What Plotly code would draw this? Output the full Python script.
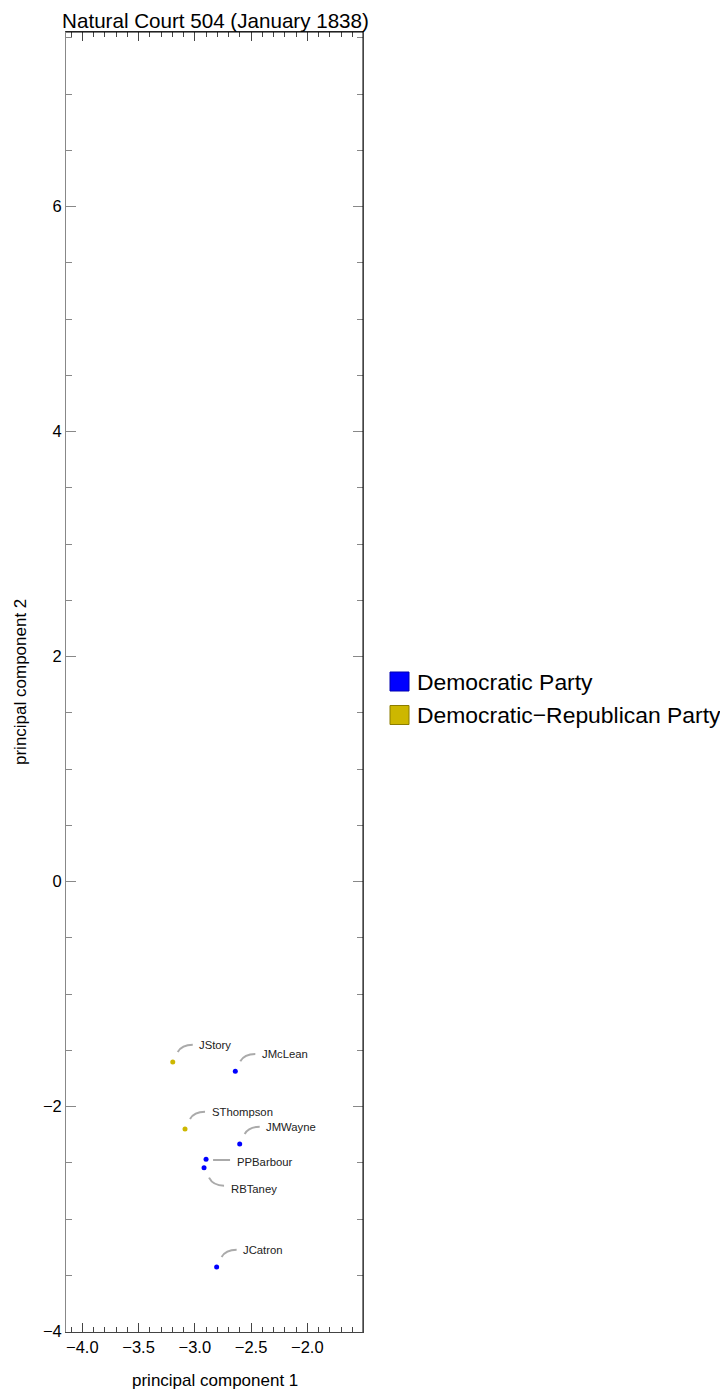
import plotly.graph_objects as go

# ---------------- data ----------------
justices = ["JStory", "JMcLean", "SThompson", "JMWayne", "PPBarbour", "RBTaney", "JCatron"]
pc1 = [-3.196, -2.640, -3.087, -2.601, -2.900, -2.918, -2.806]
pc2 = [-1.603, -1.685, -2.198, -2.332, -2.468, -2.542, -3.425]
party = ["Democratic-Republican Party", "Democratic Party", "Democratic-Republican Party",
         "Democratic Party", "Democratic Party", "Democratic Party", "Democratic Party"]
label_side = ["ur", "ur", "ur", "ur", "r", "dr", "ur"]

party_names = ["Democratic Party", "Democratic-Republican Party"]
party_labels = ["Democratic Party", "Democratic\u2212Republican Party"]
party_colors = {"Democratic Party": "#0000ff", "Democratic-Republican Party": "#cdb700"}
party_borders = {"Democratic Party": "#0000b0", "Democratic-Republican Party": "#8c7d00"}

title_text = "Natural Court 504 (January 1838)"
x_title = "principal component 1"
y_title = "principal component 2"

# ---------------- layout geometry ----------------
OFF = 8  # default page body margin
W, H = 728 - OFF, 1393 - OFF
ML, MR, MT, MB = 66 - OFF, 365, 32 - OFF, 61
PW, PH = W - ML - MR, H - MT - MB
XR = [-4.145, -1.505]
YR = [-4.003, 7.553]
ux = (XR[1] - XR[0]) / PW
uy = (YR[1] - YR[0]) / PH

FONT = "Liberation Sans, Arial, Helvetica, sans-serif"

# leader line styles in pixel offsets (dx right, dy down)
styles = {
    "ur": dict(path=[(5, -10), (9, -17.3), (20, -17.3)], text=(24.5, -17)),
    "r": dict(path=[(7, 0.7), (15, 0.7), (24, 0.7)], text=(29, 2.8)),
    "dr": dict(path=[(5, 10), (9, 18), (20, 18)], text=(24.5, 21.7)),
}


def px2paper_x(px):
    # px given in page pixels
    return (px - OFF - ML) / PW


def px2paper_y(py):
    return 1 - (py - OFF - MT) / PH


fig = go.Figure()

for p in party_names:
    xs = [x for x, q in zip(pc1, party) if q == p]
    ys = [y for y, q in zip(pc2, party) if q == p]
    fig.add_trace(go.Scatter(x=xs, y=ys, mode="markers", name=p, showlegend=False,
                             marker=dict(size=5, color=party_colors[p], line=dict(width=0))))

shapes = []
annotations = []
for name, x, y, side in zip(justices, pc1, pc2, label_side):
    st = styles[side]
    (a, b), (c, d), (e, f) = st["path"]
    path = "M {},{} Q {},{} {},{}".format(
        x + a * ux, y - b * uy, x + c * ux, y - d * uy, x + e * ux, y - f * uy)
    shapes.append(dict(type="path", xref="x", yref="y", path=path,
                       line=dict(color="#aaaaaa", width=2)))
    tx, ty = st["text"]
    annotations.append(dict(x=x, y=y, xref="x", yref="y", text=name, showarrow=False,
                            xanchor="left", yanchor="middle", xshift=tx, yshift=-ty,
                            font=dict(family=FONT, size=11.3, color="#222222")))

# frame (top/right black)
shapes.append(dict(type="line", xref="paper", yref="paper", x0=0, x1=1, y0=1, y1=1,
                   line=dict(color="#000000", width=1), layer="above"))
shapes.append(dict(type="line", xref="paper", yref="paper", x0=1, x1=1, y0=0, y1=1,
                   line=dict(color="#000000", width=1), layer="above"))

# manual legend
leg_x0, leg_x1, leg_text_x = 390, 409, 415
leg_rows = [681.5, 715]
for p, lab, yc in zip(party_names, party_labels, leg_rows):
    shapes.append(dict(type="rect", xref="paper", yref="paper",
                       x0=px2paper_x(leg_x0), x1=px2paper_x(leg_x1),
                       y0=px2paper_y(yc - 9.5), y1=px2paper_y(yc + 9.5),
                       fillcolor=party_colors[p], line=dict(color=party_borders[p], width=1)))
    annotations.append(dict(x=px2paper_x(leg_text_x), y=px2paper_y(yc), xref="paper", yref="paper",
                            text=lab, showarrow=False, xanchor="left", yanchor="middle",
                            font=dict(family=FONT, size=22.9, color="#000000")))

# axis titles
annotations.append(dict(x=px2paper_x(215), y=px2paper_y(1380), xref="paper", yref="paper",
                        text=x_title, showarrow=False, xanchor="center", yanchor="middle",
                        font=dict(family=FONT, size=17, color="#000000")))
annotations.append(dict(x=px2paper_x(20), y=px2paper_y(682), xref="paper", yref="paper",
                        text=y_title, showarrow=False, xanchor="center", yanchor="middle",
                        textangle=-90, font=dict(family=FONT, size=17, color="#000000")))

fig.update_layout(
    width=W, height=H,
    margin=dict(l=ML, r=MR, t=MT, b=MB, pad=0),
    paper_bgcolor="white", plot_bgcolor="white",
    showlegend=False,
    title=dict(text=title_text, x=px2paper_x(215.5), xref="paper",
               y=1 - (20.5 - OFF) / H, yref="container",
               xanchor="center", yanchor="middle",
               font=dict(family=FONT, size=20.6, color="#000000")),
    shapes=shapes, annotations=annotations,
    font=dict(family=FONT),
)

fig.update_xaxes(range=XR, showgrid=False, zeroline=False, showline=True, linecolor="#444444",
                 linewidth=1, mirror="allticks", ticks="inside", ticklen=9, tickcolor="#444444",
                 tick0=-4, dtick=0.5, tickformat=".1f",
                 tickfont=dict(family=FONT, size=16.5, color="#000000"),
                 minor=dict(ticks="inside", ticklen=5, tickcolor="#444444", dtick=0.1, tick0=-4,
                            showgrid=False))
fig.update_yaxes(range=YR, showgrid=False, zeroline=False, showline=True, linecolor="#888888",
                 linewidth=1, mirror="allticks", ticks="inside", ticklen=10, tickcolor="#888888",
                 tick0=0, dtick=2,
                 tickfont=dict(family=FONT, size=16.5, color="#000000"),
                 minor=dict(ticks="inside", ticklen=6, tickcolor="#888888", dtick=0.5, tick0=0,
                            showgrid=False))

fig.write_html("out.html")
